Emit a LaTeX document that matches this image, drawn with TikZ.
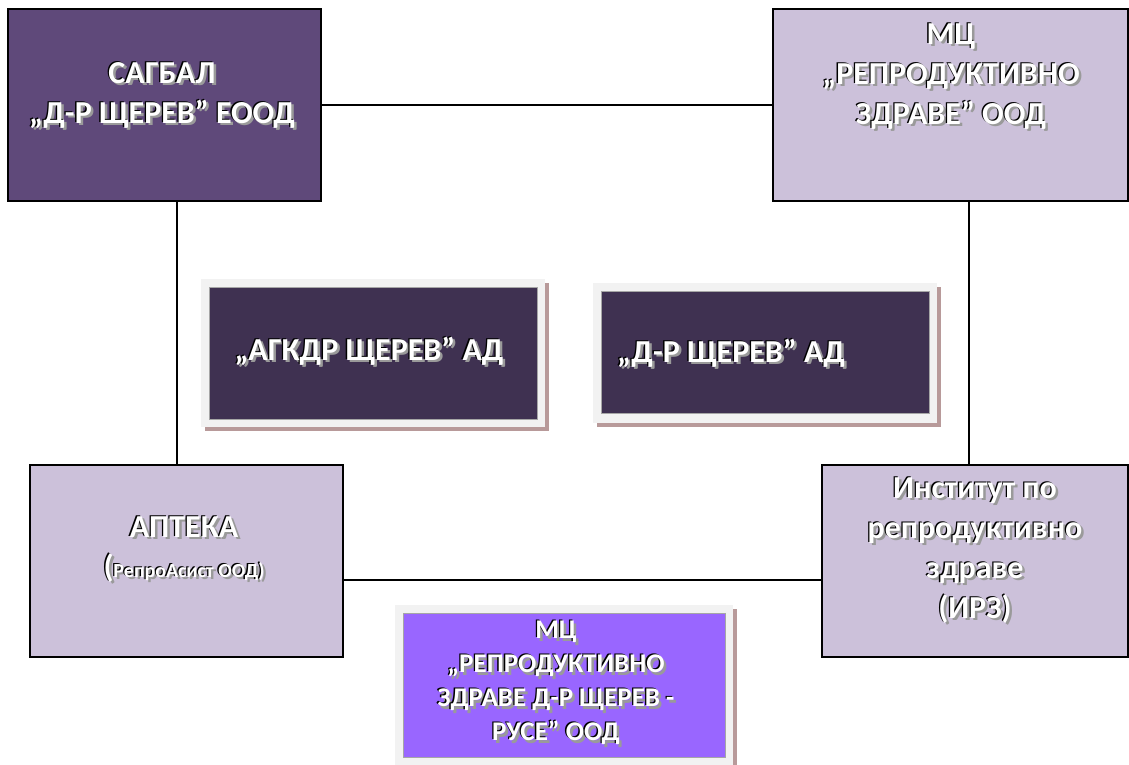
\documentclass[tikz,border=0pt]{standalone}
\usepackage{fontspec}
\setmainfont{Carlito}
\usetikzlibrary{shadows}

\definecolor{darkplum}{HTML}{5F497A}
\definecolor{lavender}{HTML}{CCC1DA}
\definecolor{nightplum}{HTML}{3F3151}
\definecolor{violetbox}{HTML}{9966FF}
\definecolor{framegray}{HTML}{F2F2F2}
\definecolor{rosyshadow}{HTML}{B89A9A}
\definecolor{txtshadow}{HTML}{9A9A9A}

\tikzset{
  orgbox/.style={draw=black, line width=1.5pt, inner sep=0pt, minimum height=192pt},
  framebox/.style={fill=framegray, inner sep=0pt,
    drop shadow={fill=rosyshadow, opacity=1, shadow xshift=4pt, shadow yshift=-4pt}},
  innerbox/.style={draw=gray!70, line width=0.6pt, inner sep=0pt},
  link/.style={draw=black, line width=1.2pt},
  lbl/.style={font=\bfseries\fontsize{32}{40}\selectfont, align=center, inner sep=0pt, text=white},
  smalllbl/.style={font=\bfseries\fontsize{27}{34}\selectfont}
}

% one line of white text with black edge and grey shadow
\newcommand\shline[1]{\leavevmode
  \rlap{\kern2.5pt\raisebox{-2.5pt}{\color{txtshadow}#1}}%
  \rlap{\kern-1.3pt\raisebox{1.1pt}{\color{black}#1}}#1}

\begin{document}
\begin{tikzpicture}[x=1pt,y=-1pt]
\useasboundingbox (0,0) rectangle (1129,764);

% corner boxes
\node[orgbox, fill=darkplum, minimum width=313pt] (sagbal) at (164.5,105) {};
\node[orgbox, fill=lavender, minimum width=355pt] (mcrz) at (950.5,105) {};
\node[orgbox, fill=lavender, minimum width=313pt] (apteka) at (186.5,561) {};
\node[orgbox, fill=lavender, minimum width=306pt] (irz) at (975,561) {};

% connectors
\coordinate (leftrun) at (177,0);
\coordinate (rightrun) at (969,0);
\coordinate (lowrun) at (0,580);
\draw[link] (sagbal) -- (mcrz);
\draw[link] (sagbal.south -| leftrun) -- (apteka.north -| leftrun);
\draw[link] (mcrz.south -| rightrun) -- (irz.north -| rightrun);
\draw[link] (apteka.east |- lowrun) -- (irz.west |- lowrun);

% framed boxes in the middle
\node[framebox, minimum width=344pt, minimum height=148pt] (agkdrframe) at (373,353) {};
\node[innerbox, fill=nightplum, minimum width=328pt, minimum height=132pt] (agkdr) at (agkdrframe) {};
\node[framebox, minimum width=344pt, minimum height=140pt] (shterevframe) at (765,353) {};
\node[innerbox, fill=nightplum, minimum width=328pt, minimum height=122pt] (shterev) at (765,352) {};
\node[framebox, minimum width=338pt, minimum height=160pt] (ruseframe) at (564,685) {};
\node[innerbox, fill=violetbox, minimum width=322pt, minimum height=144pt] (ruse) at (ruseframe) {};

% labels
\node[lbl] (sagbaltext) at (162,96) {\shline{САГБАЛ}\\\shline{„Д-Р ЩЕРЕВ” ЕООД}};
\node[lbl] (mcrztext) at (951,77) {\shline{МЦ}\\\shline{„РЕПРОДУКТИВНО}\\\shline{ЗДРАВЕ” ООД}};
\node[lbl] (aptekatext) at (184,550) {\shline{АПТЕКА}\\\shline{(\fontsize{20}{24}\selectfont РепроАсист ООД)}};
\node[lbl] (irztext) at (975,551) {\shline{Институт по}\\\shline{репродуктивно}\\\shline{здраве}\\\shline{(ИРЗ)}};
\node[lbl] (agkdrtext) at (369,352) {\shline{„АГКДР ЩЕРЕВ” АД}};
\node[lbl] (shterevtext) at (731,354) {\shline{„Д-Р ЩЕРЕВ” АД}};
\node[lbl, smalllbl] (rusetext) at (556,684) {\shline{МЦ}\\\shline{„РЕПРОДУКТИВНО}\\\shline{ЗДРАВЕ Д-Р ЩЕРЕВ -}\\\shline{РУСЕ” ООД}};
\end{tikzpicture}
\end{document}
